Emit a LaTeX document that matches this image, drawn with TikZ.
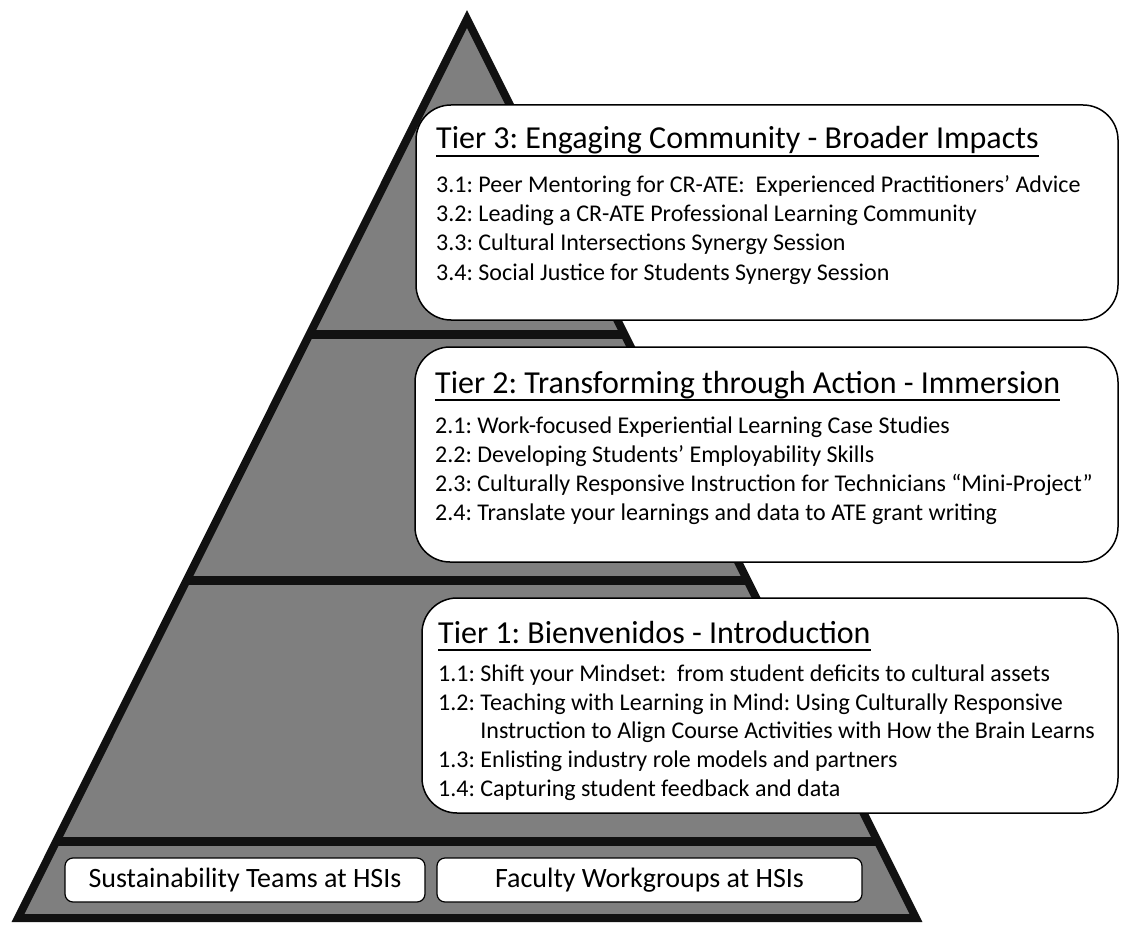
\documentclass[tikz,border=0pt]{standalone}
\usepackage{fontspec}
\setmainfont{Carlito}
\usetikzlibrary{calc}
\definecolor{pyrgray}{HTML}{7F7F7F}
\definecolor{edge}{HTML}{111111}
\frenchspacing
\begin{document}
\begin{tikzpicture}[x=1pt,y=-1pt,
  pyr/.style={fill=pyrgray},
  pyredge/.style={draw=edge, line width=8pt, line join=miter},
  band/.style={draw=edge, line width=9pt},
  tierbox/.style={draw=black, line width=1.5pt, fill=white, rounded corners=35pt},
  basebox/.style={draw=black, line width=1.2pt, fill=white, rounded corners=8pt},
  ttl/.style={anchor=base west, inner sep=0pt, font=\fontsize{32}{36}\selectfont},
  itm/.style={anchor=base west, inner sep=0pt, font=\fontsize{24}{29}\selectfont},
  basetxt/.style={inner sep=0pt, font=\fontsize{28}{32}\selectfont},
  uline/.style={line width=2.6pt, draw=black}
]
\useasboundingbox (0,0) rectangle (1121,925);
\fill[white] (0,0) rectangle (1121,925);
% pyramid
\coordinate (A) at (467,19);
\coordinate (BL) at (18,918);
\coordinate (BR) at (916,918);
\path[pyr] (A) -- (BL) -- (BR) -- cycle;
\begin{scope}
  \clip (A) -- (BL) -- (BR) -- cycle;
  \draw[band] (0,334) -- (1121,334);
  \draw[band] (0,580) -- (1121,580);
  \draw[band] (0,841) -- (1121,841);
\end{scope}
\draw[pyredge] (A) -- (BL) -- (BR) -- cycle;

% Tier 3
\path[tierbox] (416,105) rectangle (1118,320);
\node[ttl] (t3) at (436,149) {Tier 3: Engaging Community - Broader Impacts};
\draw[uline] ([yshift=-7pt]t3.base west) -- ([yshift=-7pt]t3.base east);
\node[itm] (i31) at (436,193) {3.1: Peer Mentoring for CR-ATE:\ \ Experienced Practitioners’ Advice};
\node[itm] (i32) at (436,222) {3.2: Leading a CR-ATE Professional Learning Community};
\node[itm] (i33) at (436,251) {3.3: Cultural Intersections Synergy Session};
\node[itm] (i34) at (436,280) {3.4: Social Justice for Students Synergy Session};

% Tier 2
\path[tierbox] (415,347) rectangle (1118,562);
\node[ttl] (t2) at (435,393) {Tier 2: Transforming through Action - Immersion};
\draw[uline] ([yshift=-7pt]t2.base west) -- ([yshift=-7pt]t2.base east);
\node[itm] (i21) at (435,433) {2.1: Work-focused Experiential Learning Case Studies};
\node[itm] (i22) at (435,462) {2.2: Developing Students’ Employability Skills};
\node[itm] (i23) at (435,491) {2.3: Culturally Responsive Instruction for Technicians “Mini-Project”};
\node[itm] (i24) at (435,520) {2.4: Translate your learnings and data to ATE grant writing};

% Tier 1
\path[tierbox] (422,598) rectangle (1118,813);
\node[ttl] (t1) at (438,643) {Tier 1: Bienvenidos - Introduction};
\draw[uline] ([yshift=-7pt]t1.base west) -- ([yshift=-7pt]t1.base east);
\node[itm] (i11) at (438,681) {1.1: Shift your Mindset:\ \ from student deficits to cultural assets};
\node[itm] (i12) at (438,710) {1.2: Teaching with Learning in Mind: Using Culturally Responsive};
\node[itm] (i12b) at (438,738) {\phantom{1.2: }Instruction to Align Course Activities with How the Brain Learns};
\node[itm] (i13) at (438,767) {1.3: Enlisting industry role models and partners};
\node[itm] (i14) at (438,796) {1.4: Capturing student feedback and data};

% Base
\path[basebox] (65,858) rectangle (425,902);
\node[basetxt] (sus) at (245,880) {Sustainability Teams at HSIs};
\path[basebox] (437,858) rectangle (862,902);
\node[basetxt] (fac) at (649.5,880) {Faculty Workgroups at HSIs};
\end{tikzpicture}
\end{document}
